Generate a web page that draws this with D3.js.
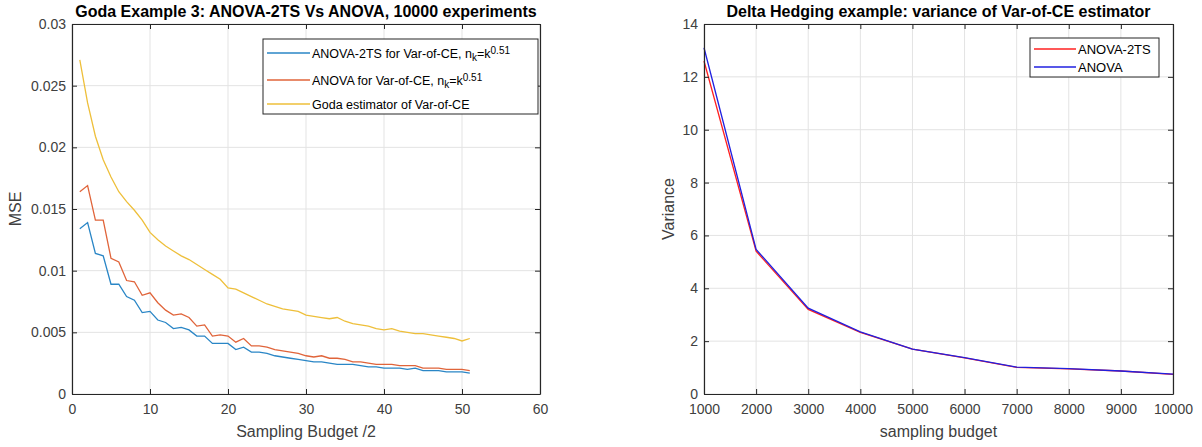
<!DOCTYPE html>
<html>
<head>
<meta charset="utf-8">
<script src="https://cdn.jsdelivr.net/npm/d3@7"></script>
<style>
  body { margin: 0; background: #fff; }
  svg text { font-family: "Liberation Sans", Arial, sans-serif; }
</style>
</head>
<body>
<div id="container"></div>
<script>
// left panel data: MSE per sampling budget /2
const budgetHalf = d3.range(1, 52);
const anova2tsMse = [
  0.0134, 0.0139, 0.0114, 0.0112, 0.0089, 0.0089, 0.0079, 0.0076, 0.0066, 0.0067,
  0.0060, 0.0058, 0.0053, 0.0054, 0.0052, 0.0047, 0.0047, 0.0041, 0.0041, 0.0041,
  0.0036, 0.0038, 0.0034, 0.0034, 0.0033, 0.0031, 0.0030, 0.0029, 0.0028, 0.0027,
  0.0026, 0.0026, 0.0025, 0.0024, 0.0024, 0.0024, 0.0023, 0.0022, 0.0022, 0.0021,
  0.0021, 0.0021, 0.0020, 0.0021, 0.0019, 0.0019, 0.0019, 0.0018, 0.0018, 0.0018,
  0.0017
];
const anovaMse = [
  0.0164, 0.0169, 0.0141, 0.0141, 0.0110, 0.0107, 0.0092, 0.0091, 0.0080, 0.0082,
  0.0074, 0.0068, 0.0064, 0.0065, 0.0062, 0.0055, 0.0056, 0.0047, 0.0048, 0.0047,
  0.0042, 0.0045, 0.0039, 0.0039, 0.0038, 0.0036, 0.0035, 0.0034, 0.0033, 0.0031,
  0.0030, 0.0031, 0.0029, 0.0029, 0.0028, 0.0026, 0.0026, 0.0025, 0.0024, 0.0024,
  0.0024, 0.0023, 0.0023, 0.0023, 0.0021, 0.0021, 0.0021, 0.0020, 0.0020, 0.0020,
  0.0019
];
const godaMse = [
  0.0271, 0.0236, 0.0209, 0.0190, 0.0176, 0.0164, 0.0156, 0.0149, 0.0141, 0.0131,
  0.0125, 0.0120, 0.0116, 0.0112, 0.0109, 0.0105, 0.0101, 0.0097, 0.0093, 0.0086,
  0.0085, 0.0082, 0.0079, 0.0076, 0.0073, 0.0071, 0.0069, 0.0068, 0.0067, 0.0064,
  0.0063, 0.0062, 0.0061, 0.0062, 0.0059, 0.0057, 0.0056, 0.0055, 0.0053, 0.0052,
  0.0053, 0.0051, 0.0050, 0.0049, 0.0049, 0.0048, 0.0047, 0.0046, 0.0045, 0.0043,
  0.0045
];
const leftXTicks = [0, 10, 20, 30, 40, 50, 60];
const leftYTicks = [0, 0.005, 0.01, 0.015, 0.02, 0.025, 0.03];

// right panel data: variance per sampling budget
const budget = [1000, 2000, 3000, 4000, 5000, 6000, 7000, 8000, 9000, 10000];
const anova2tsVar = [12.6, 5.4, 3.2, 2.33, 1.7, 1.37, 1.01, 0.95, 0.87, 0.74];
const anovaVar = [13.1, 5.47, 3.25, 2.35, 1.7, 1.38, 1.02, 0.96, 0.87, 0.75];
const rightYTicks = [0, 2, 4, 6, 8, 10, 12, 14];

const W = 1202, H = 447;
const axisCol = "#262626";
const gridCol = "#e3e3e3";

const svg = d3.select("#container")
  .append("svg")
    .attr("width", W)
    .attr("height", H);

function panel(opt) {
  const x = d3.scaleLinear().domain(opt.xDomain).range([opt.left, opt.right]);
  const y = d3.scaleLinear().domain(opt.yDomain).range([opt.bottom, opt.top]);
  const g = svg.append("g");

  // grid
  g.append("g").selectAll("line").data(opt.xTicks).join("line")
    .attr("x1", d => x(d)).attr("x2", d => x(d))
    .attr("y1", opt.top).attr("y2", opt.bottom)
    .attr("stroke", gridCol).attr("stroke-width", 1);
  g.append("g").selectAll("line").data(opt.yTicks).join("line")
    .attr("x1", opt.left).attr("x2", opt.right)
    .attr("y1", d => y(d)).attr("y2", d => y(d))
    .attr("stroke", gridCol).attr("stroke-width", 1);

  // lines
  const line = d3.line().x(d => x(d[0])).y(d => y(d[1]));
  opt.series.forEach(s => {
    g.append("path")
      .datum(opt.xs.map((v, i) => [v, s.values[i]]))
      .attr("fill", "none")
      .attr("stroke", s.color)
      .attr("stroke-width", 1.3)
      .attr("d", line);
  });

  // axes (ticks pointing inward, box on)
  const styleAxis = sel => {
    sel.select(".domain").attr("stroke", axisCol).attr("stroke-width", 1.2);
    sel.selectAll(".tick line").attr("stroke", axisCol);
    sel.selectAll(".tick text").attr("fill", "#404040").attr("font-size", 14)
      .attr("font-family", "Liberation Sans, Arial, sans-serif");
  };
  g.append("g").attr("transform", `translate(0,${opt.bottom})`)
    .call(d3.axisBottom(x).tickValues(opt.xTicks).tickSizeInner(-5).tickSizeOuter(0)
      .tickPadding(10).tickFormat(opt.xFormat))
    .call(styleAxis);
  g.append("g").attr("transform", `translate(0,${opt.top})`)
    .call(d3.axisTop(x).tickValues(opt.xTicks).tickSizeInner(-5).tickSizeOuter(0).tickFormat(""))
    .call(styleAxis);
  g.append("g").attr("transform", `translate(${opt.left},0)`)
    .call(d3.axisLeft(y).tickValues(opt.yTicks).tickSizeInner(-5).tickSizeOuter(0)
      .tickPadding(6).tickFormat(opt.yFormat))
    .call(styleAxis);
  g.append("g").attr("transform", `translate(${opt.right},0)`)
    .call(d3.axisRight(y).tickValues(opt.yTicks).tickSizeInner(-5).tickSizeOuter(0).tickFormat(""))
    .call(styleAxis);

  // title and labels
  g.append("text")
    .attr("x", (opt.left + opt.right) / 2).attr("y", 17)
    .attr("text-anchor", "middle").attr("font-weight", "bold").attr("font-size", 16)
    .attr("fill", "#000")
    .text(opt.title);
  g.append("text")
    .attr("x", (opt.left + opt.right) / 2).attr("y", 437)
    .attr("text-anchor", "middle").attr("font-size", 16).attr("fill", "#404040")
    .text(opt.xLabel);
  g.append("text")
    .attr("transform", `translate(${opt.yLabelX},${(opt.top + opt.bottom) / 2}) rotate(-90)`)
    .attr("text-anchor", "middle").attr("font-size", 16).attr("fill", "#404040")
    .text(opt.yLabel);

  // legend
  const lg = opt.legend;
  g.append("rect")
    .attr("x", lg.x).attr("y", lg.y).attr("width", lg.w).attr("height", lg.h)
    .attr("fill", "#fff").attr("stroke", axisCol).attr("stroke-width", 1);
  lg.items.forEach(it => {
    g.append("line")
      .attr("x1", lg.x + 4).attr("x2", lg.x + lg.lineLen)
      .attr("y1", it.y).attr("y2", it.y)
      .attr("stroke", it.color).attr("stroke-width", 1.3);
    const t = g.append("text")
      .attr("x", lg.x + lg.lineLen + 2).attr("y", it.y + 4.5)
      .attr("font-size", lg.fontSize).attr("fill", "#000");
    it.parts.forEach(p => {
      const ts = t.append("tspan").text(p.t);
      if (p.sub) ts.attr("baseline-shift", "-30%").attr("font-size", 10);
      if (p.sup) ts.attr("baseline-shift", "45%").attr("font-size", 10);
    });
  });
}

panel({
  left: 72, right: 540, top: 24, bottom: 394,
  xDomain: [0, 60], yDomain: [0, 0.03],
  xTicks: leftXTicks, yTicks: leftYTicks,
  xFormat: d3.format("d"), yFormat: d => d === 0 ? "0" : String(+d.toFixed(3)),
  xs: budgetHalf,
  series: [
    {values: anova2tsMse, color: "#2a86c6"},
    {values: anovaMse, color: "#e0643a"},
    {values: godaMse, color: "#eebf3a"}
  ],
  title: "Goda Example 3: ANOVA-2TS Vs ANOVA, 10000 experiments",
  xLabel: "Sampling Budget /2", yLabel: "MSE", yLabelX: 21,
  legend: {
    x: 263, y: 39, w: 275, h: 75, lineLen: 47, fontSize: 12.5,
    items: [
      {y: 53, color: "#2a86c6", parts: [{t: "ANOVA-2TS for Var-of-CE, n"}, {t: "k", sub: true}, {t: "=k"}, {t: "0.51", sup: true}]},
      {y: 80, color: "#e0643a", parts: [{t: "ANOVA for Var-of-CE, n"}, {t: "k", sub: true}, {t: "=k"}, {t: "0.51", sup: true}]},
      {y: 104, color: "#eebf3a", parts: [{t: "Goda estimator of Var-of-CE"}]}
    ]
  }
});

panel({
  left: 704, right: 1173, top: 24, bottom: 394,
  xDomain: [1000, 10000], yDomain: [0, 14],
  xTicks: budget, yTicks: rightYTicks,
  xFormat: d3.format("d"), yFormat: d3.format("d"),
  xs: budget,
  series: [
    {values: anova2tsVar, color: "#ff2020"},
    {values: anovaVar, color: "#2020e0"}
  ],
  title: "Delta Hedging example: variance of Var-of-CE estimator",
  xLabel: "sampling budget", yLabel: "Variance", yLabelX: 674,
  legend: {
    x: 1030, y: 38, w: 129, h: 39, lineLen: 46, fontSize: 13,
    items: [
      {y: 49, color: "#ff2020", parts: [{t: "ANOVA-2TS"}]},
      {y: 67, color: "#2020e0", parts: [{t: "ANOVA"}]}
    ]
  }
});
</script>
</body>
</html>
